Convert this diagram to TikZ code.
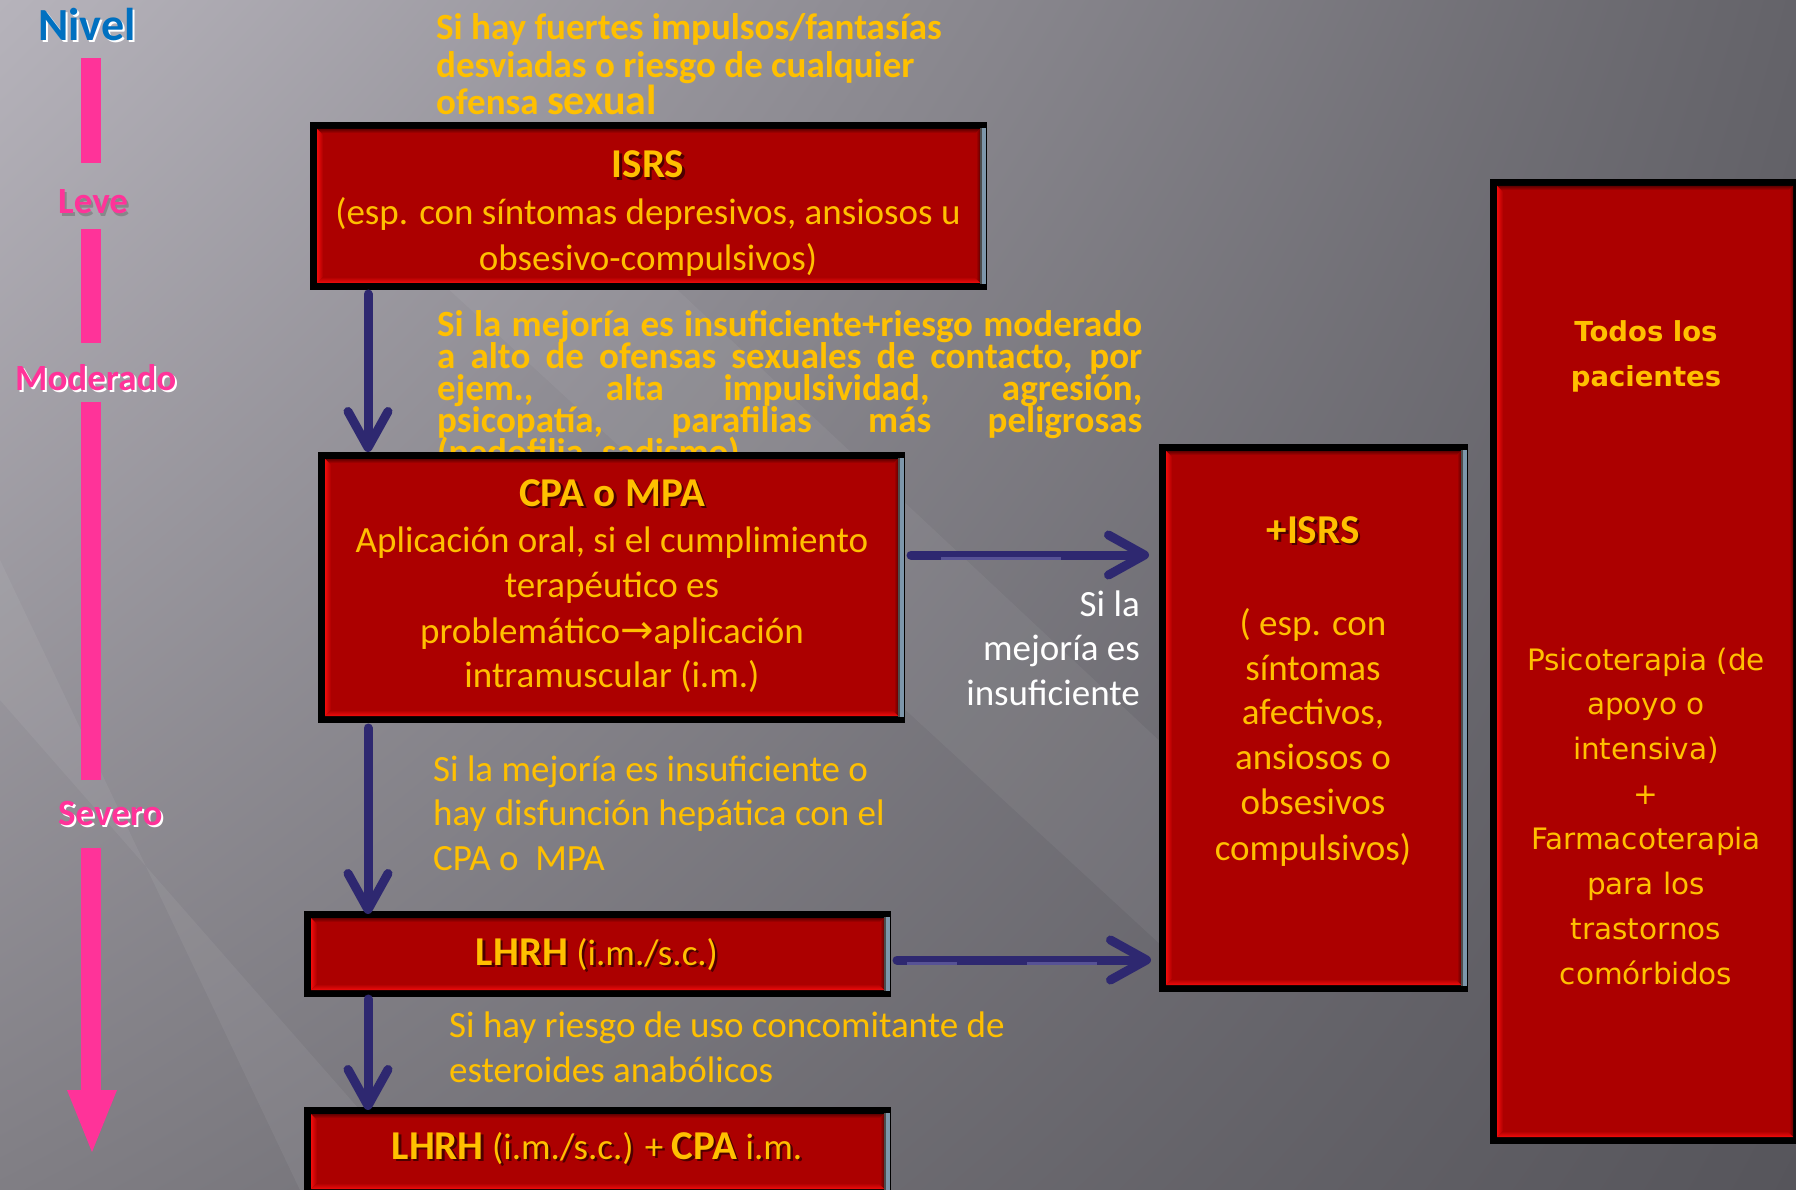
\documentclass[tikz,border=0pt]{standalone}
\usepackage{fontspec}
\setmainfont{Carlito}
\newfontfamily\verdfont{DejaVu Sans}
\usetikzlibrary{arrows.meta,calc,shadings}

\definecolor{gold}{RGB}{255,192,0}
\definecolor{boxred}{RGB}{172,0,0}
\definecolor{hired}{RGB}{240,12,12}
\definecolor{lored}{RGB}{100,0,0}
\definecolor{slateedge}{RGB}{125,150,170}
\definecolor{navy}{RGB}{46,40,112}
\definecolor{navylight}{RGB}{105,100,165}
\definecolor{levelpink}{RGB}{255,51,153}
\definecolor{nivelblue}{RGB}{0,112,192}
\definecolor{bgUL}{RGB}{182,179,187}
\definecolor{bgUR}{RGB}{100,99,105}
\definecolor{bgLL}{RGB}{128,126,132}
\definecolor{bgLR}{RGB}{86,85,91}

\newcommand\bodyfont{\fontsize{37}{45}\selectfont}
\newcommand\titlefont{\fontsize{41}{45}\selectfont\bfseries}
\newcommand\sidefont{\verdfont\fontsize{29.5}{45}\selectfont}
\newcommand\sidebold{\verdfont\fontsize{27.5}{45}\selectfont\bfseries}
\newcommand\levelfont{\fontsize{37}{45}\selectfont\bfseries}

\tikzset{
  panel/.style={rectangle, fill=black, draw=none, inner sep=0pt, outer sep=0pt},
  flow/.style={draw=navy, line width=9pt, line cap=round,
    -{Straight Barb[length=36pt,width=40pt,round]}},
  txt/.style={inner sep=0pt, text=gold, font=\bodyfont},
  txtb/.style={inner sep=0pt, text=gold, font=\fontsize{37}{45}\selectfont\bfseries},
  side/.style={inner sep=0pt, text=gold, font=\sidefont},
  lvl/.style={inner sep=0pt, text=levelpink, font=\levelfont},
}

% red bevelled panel: name, x1, y1, x2, y2 (image coordinates, y downwards)
\newcommand\panel[5]{%
  \node[panel, anchor=north west, minimum width={#4-#2}, minimum height={#5-#3}] (#1) at (#2,#3) {};
  \fill[boxred] (#2+7,#3+7) rectangle (#4-7,#5-7);
  \shade[top color=lored, bottom color=boxred]
    (#2+7,#3+7) -- (#4-7,#3+7) -- (#4-11,#3+11) -- (#2+11,#3+11) -- cycle;
  \shade[left color=boxred, right color=lored]
    (#4-7,#3+7) -- (#4-7,#5-7) -- (#4-11,#5-11) -- (#4-11,#3+11) -- cycle;
  \shade[left color=hired, right color=boxred]
    (#2+7,#3+7) -- (#2+13,#3+13) -- (#2+13,#5-13) -- (#2+7,#5-7) -- cycle;
  \shade[bottom color=hired, top color=boxred]
    (#2+7,#5-7) -- (#2+13,#5-13) -- (#4-13,#5-13) -- (#4-7,#5-7) -- cycle;
}
% steel edge on the right side of a panel
\newcommand\steeledge[1]{%
  \fill[slateedge] ($(#1.north east)+(-7,6)$) rectangle ($(#1.south east)+(-1,-6)$);
  \fill[black!70] ($(#1.north east)+(-7,6)$) rectangle ($(#1.south east)+(-5.5,-6)$);
}
% title text with a soft drop shadow: name, x, y, anchor, content
\newcommand\shadowtext[5]{%
  \node[inner sep=0pt, font=\bodyfont, anchor=#4, text=black, opacity=.55] (#1-sh) at (#2+2.5,#3+2.5) {#5};
  \node[inner sep=0pt, font=\bodyfont, anchor=#4, text=gold] (#1) at (#2,#3) {#5};
}

\begin{document}
\begin{tikzpicture}[x=1pt,y=-1pt]
\clip (0,0) rectangle (1796,1190);

% background
\shade[upper left=bgUL, upper right=bgUR, lower left=bgLL, lower right=bgLR] (0,0) rectangle (1796,1190);
\fill[white, opacity=.06] (0,560) -- (0,700) -- (430,1190) -- (300,1190) -- cycle;
\fill[white, opacity=.05] (330,180) -- (560,180) -- (1415,980) -- (1199,980) -- cycle;

% severity scale
\fill[levelpink] (81,58) rectangle (101,163);
\fill[levelpink] (81,229) rectangle (101,343);
\fill[levelpink] (81,402) rectangle (101,780);
\fill[levelpink] (81,848) rectangle (101,1092);
\fill[levelpink] (67,1090) -- (117,1090) -- (92,1152) -- cycle;

\node[inner sep=0pt, anchor=base west, text=white, font=\fontsize{46}{50}\selectfont\bfseries] (nivel-w) at (40,43) {Nivel};
\node[inner sep=0pt, anchor=base west, text=nivelblue, font=\fontsize{46}{50}\selectfont\bfseries] (nivel) at (38,41) {Nivel};
\node[lvl, anchor=base west, text=black!55, opacity=.6] (leve-sh) at (60,217) {Leve};
\node[lvl, anchor=base west] (leve) at (58,214) {Leve};
\node[lvl, anchor=base west, text=white] (mod-w) at (17,392) {Moderado};
\node[lvl, anchor=base west] (mod) at (15,390) {Moderado};
\node[lvl, anchor=base west, text=white] (sev-w) at (60,827) {Severo};
\node[lvl, anchor=base west] (sev) at (58,825) {Severo};

% condition for the first step
\node[txtb, anchor=base west] (c1a) at (436,40) {Si hay fuertes impulsos/fantasías};
\node[txtb, anchor=base west] (c1b) at (436,78) {desviadas o riesgo de cualquier};
\node[txtb, anchor=base west] (c1c) at (436,115) {ofensa {\fontsize{42}{45}\selectfont sexual}};

% condition for the second step (partly hidden under the CPA panel)
\foreach \yy/\tt [count=\i] in {336/{Si la mejoría es insuficiente+riesgo moderado},
    368/{a alto de ofensas sexuales de contacto, por},
    400/{ejem., alta impulsividad, agresión,},
    432/{psicopatía, parafilias más peligrosas}}
  \node[txtb, anchor=base west] (c2-\i) at (437,\yy) {\makebox[705pt][s]{\tt}};
\node[txtb, anchor=base west] (c2-5) at (437,464) {(pedofilia, sadismo)};

% panels
\panel{isrs}{310}{122}{987}{290}
\steeledge{isrs}
\panel{cpa}{318}{452}{905}{723}
\steeledge{cpa}
\panel{plus}{1159}{444}{1468}{992}
\steeledge{plus}
\panel{lhrh}{304}{911}{891}{997}
\steeledge{lhrh}
\panel{combo}{304}{1107}{891}{1196}
\steeledge{combo}
\panel{allp}{1490}{179}{1800}{1144}

% ISRS panel text
\shadowtext{isrs-t}{648}{178}{base}{\titlefont ISRS}
\node[txt, anchor=base] (isrs-1) at (648,225) {(esp. con síntomas depresivos, ansiosos u};
\node[txt, anchor=base] (isrs-2) at (648,271) {obsesivo-compulsivos)};

% CPA panel text
\shadowtext{cpa-t}{612}{506}{base}{\titlefont CPA o MPA}
\node[txt, anchor=base] (cpa-1) at (612,552) {Aplicación oral, si el cumplimiento};
\node[txt, anchor=base] (cpa-2) at (612,597) {terapéutico es};
\node[txt, anchor=base] (cpa-3) at (612,643) {problemático{\verdfont\fontsize{40}{45}\selectfont →}aplicación};
\node[txt, anchor=base] (cpa-4) at (612,687) {intramuscular (i.m.)};

% +ISRS panel text
\shadowtext{plus-t}{1313}{543}{base}{\titlefont +ISRS}
\foreach \yy/\tt [count=\i] in {635/{( esp. con}, 680/{síntomas}, 724/{afectivos,},
    769/{ansiosos o}, 814/{obsesivos}, 860/{compulsivos)}}
  \node[txt, anchor=base] (plus-\i) at (1313,\yy) {\tt};

% note beside the upper horizontal arrow
\node[txt, text=white, anchor=base east] (w-1) at (1140,616) {Si la};
\node[txt, text=white, anchor=base east] (w-2) at (1140,660) {mejoría es};
\node[txt, text=white, anchor=base east] (w-3) at (1140,705) {insuficiente};

% condition for the third step
\node[txt, anchor=base west] (c3-1) at (433,781) {Si la mejoría es insuficiente o};
\node[txt, anchor=base west] (c3-2) at (433,825) {hay disfunción hepática con el};
\node[txt, anchor=base west] (c3-3) at (433,870) {CPA o\ \ MPA};

% LHRH panel text
\shadowtext{lhrh-t}{597}{965}{base}{{\titlefont LHRH} {\bodyfont (i.m./s.c.)}}

% condition for the last step
\node[txt, anchor=base west] (c4-1) at (449,1037) {Si hay riesgo de uso concomitante de};
\node[txt, anchor=base west] (c4-2) at (449,1082) {esteroides anabólicos};

% combined panel text
\shadowtext{combo-t}{597}{1159}{base}{{\titlefont LHRH} {\bodyfont (i.m./s.c.) +} {\titlefont CPA} {\bodyfont i.m.}}

% panel for all patients
\node[side, font=\sidebold, anchor=base] (all-1) at (1646,341) {Todos los};
\node[side, font=\sidebold, anchor=base] (all-2) at (1646,386) {pacientes};
\foreach \tt [count=\i from 0] in {Psicoterapia (de, apoyo o, intensiva), +,
    Farmacoterapia, para los, trastornos, comórbidos}
  \node[side, anchor=base] (all-r\i) at (1646,670+44.9*\i) {\tt};

% arrows
\draw[flow] ([xshift=58pt,yshift=-4pt]isrs.south west) -- ([xshift=50pt]cpa.north west);
\draw[flow] ([xshift=50pt,yshift=-5pt]cpa.south west) -- ([xshift=64pt,yshift=-3pt]lhrh.north west);
\draw[flow] ([xshift=64pt,yshift=-2pt]lhrh.south west) -- ([xshift=64pt,yshift=-3pt]combo.north west);
\coordinate (r1s) at ($(cpa.north east)+(6,103)$);
\coordinate (r1e) at ($(r1s -| plus.west)+(-10,0)$);
\draw[flow] (r1s) -- (r1e);
\draw[navylight, line width=3pt, opacity=.7] ($(r1s)+(30,3)$) -- ($(r1s)+(150,3)$);
\coordinate (r2s) at ($(lhrh.east)+(6,6)$);
\coordinate (r2e) at ($(r2s -| plus.west)+(-8,0)$);
\draw[flow] (r2s) -- (r2e);
\draw[navylight, line width=3pt, opacity=.7] ($(r2s)+(10,3)$) -- ($(r2s)+(60,3)$) ($(r2s)+(130,3)$) -- ($(r2s)+(200,3)$);
\end{tikzpicture}
\end{document}
